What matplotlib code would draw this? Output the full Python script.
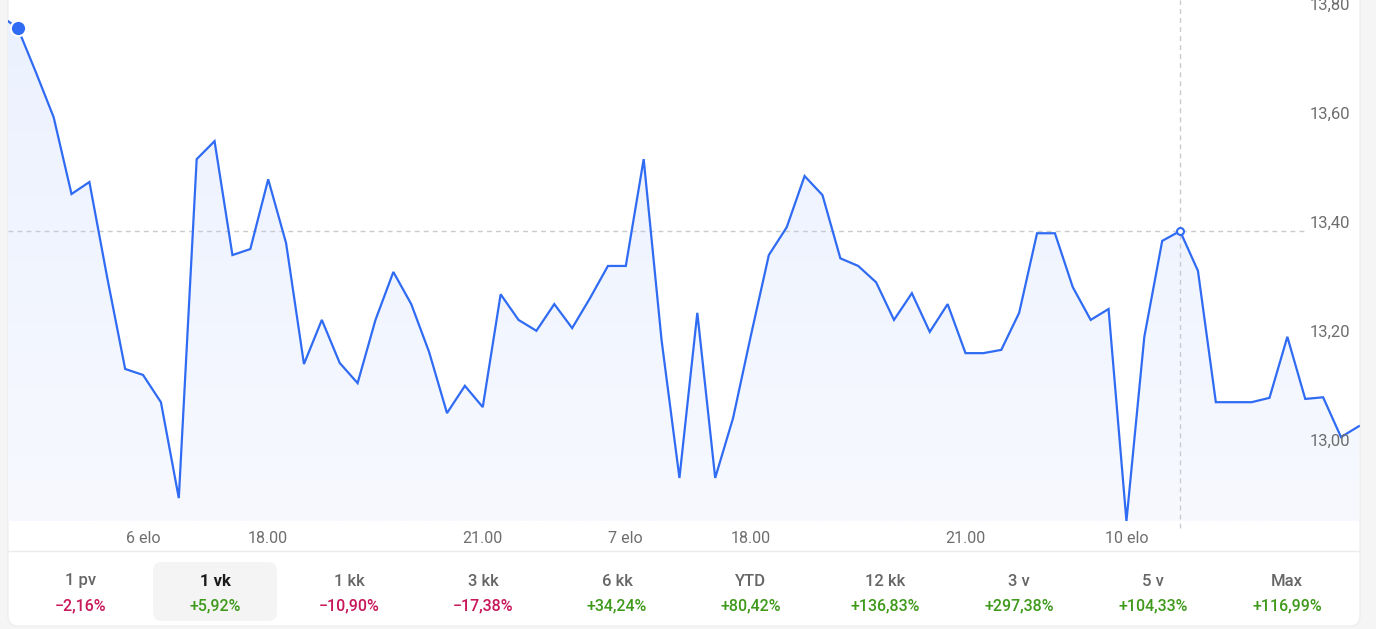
import matplotlib
matplotlib.use("Agg")
import matplotlib.pyplot as plt
import numpy as np
from matplotlib.patches import FancyBboxPatch
from matplotlib.colors import LinearSegmentedColormap
import matplotlib.transforms as mtrans

# ---------------- data ----------------
prices = [13.796, 13.772, 13.692, 13.609, 13.468, 13.490, 13.314, 13.147, 13.136, 13.086,
          12.910, 13.532, 13.565, 13.356, 13.367, 13.495, 13.378, 13.156, 13.237, 13.158,
          13.121, 13.237, 13.325, 13.266, 13.178, 13.066, 13.116, 13.077, 13.284, 13.237,
          13.217, 13.266, 13.222, 13.277, 13.336, 13.336, 13.532, 13.200, 12.947, 13.250,
          12.947, 13.057, 13.209, 13.356, 13.407, 13.501, 13.466, 13.350, 13.336, 13.306,
          13.237, 13.286, 13.215, 13.266, 13.176, 13.176, 13.182, 13.250, 13.396, 13.396,
          13.297, 13.237, 13.257, 12.868, 13.206, 13.382, 13.400, 13.327, 13.086, 13.086,
          13.086, 13.094, 13.206, 13.092, 13.095, 13.022, 13.042]

x_tick_idx = [8, 15, 27, 35, 42, 54, 63]
x_tick_labels = ["6 elo", "18.00", "21.00", "7 elo", "18.00", "21.00", "10 elo"]

y_ticks = [13.00, 13.20, 13.40, 13.60, 13.80]
y_tick_labels = ["13,00", "13,20", "13,40", "13,60", "13,80"]

periods = ["1 pv", "1 vk", "1 kk", "3 kk", "6 kk", "YTD", "12 kk", "3 v", "5 v", "Max"]
changes = ["\u22122,16%", "+5,92%", "\u221210,90%", "\u221217,38%", "+34,24%",
           "+80,42%", "+136,83%", "+297,38%", "+104,33%", "+116,99%"]
selected_period = 1
start_idx = 1
hover_idx = 66

# ---------------- style ----------------
plt.rcParams["font.family"] = ["Roboto", "DejaVu Sans"]
W, H = 1376, 629
LINE = "#2f6bf3"
GRID = "#c9cbd1"
TXT = "#6e6e6e"

fig = plt.figure(figsize=(W / 100, H / 100), dpi=100, facecolor="#f5f5f6")

# background / card layer in pixel coordinates
bg = fig.add_axes([0, 0, 1, 1], zorder=0)
bg.set_xlim(0, W)
bg.set_ylim(H, 0)
bg.axis("off")
card = FancyBboxPatch((8, -30), 1352, 656, boxstyle="round,pad=0,rounding_size=10",
                      facecolor="white", edgecolor="#ececec", linewidth=0.8)
bg.add_patch(card)
bg.plot([8, 1360], [551, 551], color="#ebebeb", lw=1)

col_w = 134.0
col_x0 = 14.0
for i, (p, c) in enumerate(zip(periods, changes)):
    cx = col_x0 + col_w * (i + 0.5)
    if i == selected_period:
        bg.add_patch(FancyBboxPatch((cx - 62, 562), 124, 59,
                                    boxstyle="round,pad=0,rounding_size=9",
                                    facecolor="#f4f4f4", edgecolor="none"))
    bg.text(cx, 581, p, ha="center", va="center", fontsize=12,
            color="#1b1b1b" if i == selected_period else "#666666",
            fontweight="bold" if i == selected_period else "medium")
    col = "#c8175a" if c.startswith("\u2212") else "#3f9a1c"
    bg.text(cx, 606, c, ha="center", va="center", fontsize=11.5, color=col,
            fontweight="medium")

# ---------------- chart ----------------
ax = fig.add_axes([8 / W, (H - 521) / H, 1352 / W, 521 / H], zorder=1)
ax.set_facecolor("none")
x = np.arange(len(prices))
y = np.array(prices)
x0, x1 = 8 / 17.88, 1360 / 17.88
y0, y1 = 12.868, 13.824
ax.set_xlim(x0, x1)
ax.set_ylim(y0, y1)

# gradient fill under the line
poly = ax.fill_between(x, y, y0, facecolor="none", edgecolor="none")
cmap = LinearSegmentedColormap.from_list("g", ["#f7f9ff", "#ebf1fe"])
grad = np.linspace(0, 1, 256).reshape(-1, 1)
im = ax.imshow(grad, extent=(x0, x1, y0, y1), origin="lower", aspect="auto",
               cmap=cmap, zorder=1)
path = poly.get_paths()[0]
im.set_clip_path(path, transform=ax.transData)

ax.plot(x, y, color=LINE, lw=1.6, zorder=3, solid_joinstyle="miter")

# crosshair
ax.plot([x0, 73.0], [prices[hover_idx]] * 2, color=GRID, lw=1, ls=(0, (3.5, 3)), zorder=2)
ax.plot([hover_idx, hover_idx], [y0 - 7 / 545, y1], color=GRID, lw=1, ls=(0, (3.5, 3)),
        zorder=2, clip_on=False)
ax.plot([hover_idx], [prices[hover_idx]], marker="o", ms=5, mfc="white", mec=LINE,
        mew=1.5, zorder=5)

# start marker
ax.plot([start_idx], [prices[start_idx]], marker="o", ms=11, mfc=LINE, mec="white",
        mew=1.5, zorder=5)

# y labels inside right
ytrans = mtrans.blended_transform_factory(ax.transAxes, ax.transData)
for v, lab in zip(y_ticks, y_tick_labels):
    ax.text((1350 - 8) / 1352, v + 8 / 545, lab, transform=ytrans, ha="right",
            va="center", fontsize=12, color=TXT, zorder=4)

ax.set_xticks(x_tick_idx)
ax.set_xticklabels(x_tick_labels, fontsize=11.5, color=TXT)
ax.tick_params(axis="x", length=0, pad=7.5)
ax.set_yticks([])
for s in ax.spines.values():
    s.set_visible(False)

fig.savefig("out.png", dpi=100, facecolor=fig.get_facecolor())
